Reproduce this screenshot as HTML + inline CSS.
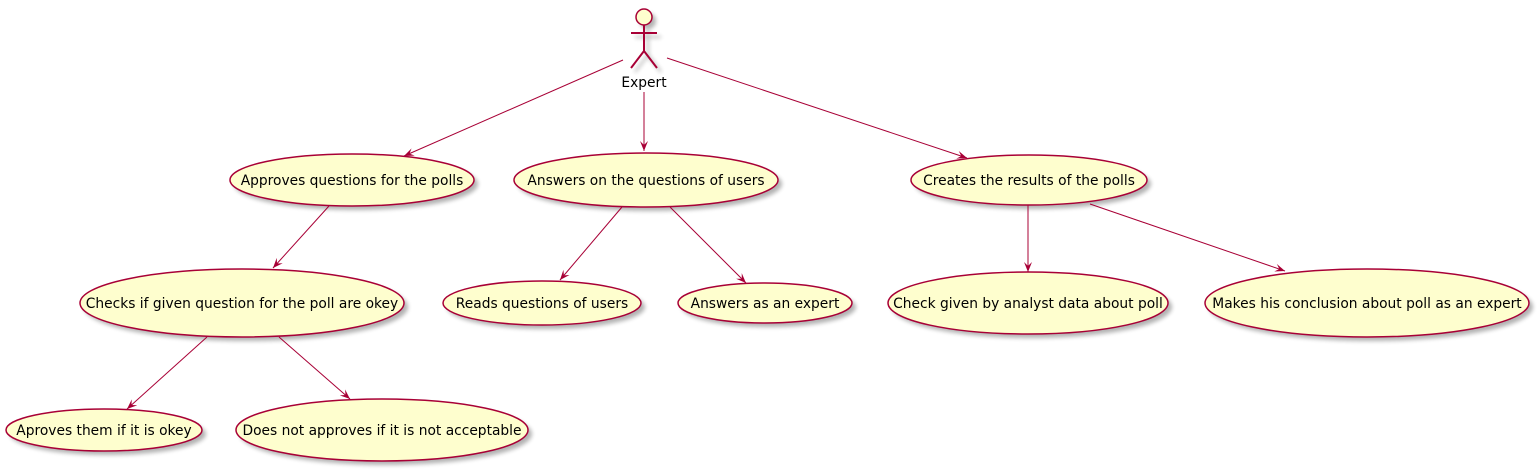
<!DOCTYPE html>
<html><head><style>body{margin:0;background:#fff}svg{display:block}</style></head><body>
<svg width="1540" height="471" xmlns="http://www.w3.org/2000/svg" font-family="DejaVu Sans, sans-serif" font-size="13.8">
<defs>
<marker id="a" markerWidth="12" markerHeight="10" refX="10" refY="4" orient="auto" markerUnits="userSpaceOnUse">
<path d="M0,0 L10,4 L0,8 L4,4 z" fill="#A80036"/></marker>
<filter id="s" x="-10%" y="-10%" width="130%" height="140%"><feGaussianBlur stdDeviation="2"/></filter>
</defs>
<g fill="#000" opacity="0.3" filter="url(#s)">
<ellipse cx="356" cy="184" rx="122" ry="26"/><ellipse cx="650" cy="184" rx="132" ry="27"/><ellipse cx="1033" cy="184" rx="118" ry="25"/>
<ellipse cx="246" cy="307" rx="162" ry="34"/><ellipse cx="546" cy="307" rx="99" ry="22"/><ellipse cx="769" cy="307" rx="87" ry="20"/>
<ellipse cx="1032" cy="307" rx="140" ry="31"/><ellipse cx="1371" cy="307" rx="162" ry="34"/>
<ellipse cx="108" cy="434" rx="98" ry="21"/><ellipse cx="386" cy="434" rx="146" ry="31"/>
<circle cx="648" cy="21" r="8"/><path d="M648 29V55M635 37H661M648 55L635 72M648 55L661 72" stroke="#000" stroke-width="2"/>
</g>
<g stroke="#A80036" stroke-width="1" fill="none" marker-end="url(#a)">
<line x1="623" y1="60" x2="404" y2="156"/>
<line x1="644" y1="92" x2="644" y2="151"/>
<line x1="667" y1="58" x2="967" y2="158"/>
<line x1="329" y1="206" x2="273" y2="268"/>
<line x1="622" y1="207" x2="560" y2="280"/>
<line x1="670" y1="207" x2="746" y2="283"/>
<line x1="1028" y1="205" x2="1028" y2="272"/>
<line x1="1090" y1="204" x2="1285" y2="271"/>
<line x1="207" y1="337" x2="127" y2="409"/>
<line x1="279" y1="337" x2="350" y2="399"/>
</g>
<g fill="#FEFECE" stroke="#A80036" stroke-width="1.5">
<ellipse cx="352" cy="180" rx="122" ry="26"/><ellipse cx="646" cy="180" rx="132" ry="27"/><ellipse cx="1029" cy="180" rx="118" ry="25"/>
<ellipse cx="242" cy="303" rx="162" ry="34"/><ellipse cx="542" cy="303" rx="99" ry="22"/><ellipse cx="765" cy="303" rx="87" ry="20"/>
<ellipse cx="1028" cy="303" rx="140" ry="31"/><ellipse cx="1367" cy="303" rx="162" ry="34"/>
<ellipse cx="104" cy="430" rx="98" ry="21"/><ellipse cx="382" cy="430" rx="146" ry="31"/>
<circle cx="644" cy="17" r="8"/>
</g>
<path d="M644 25V51M631 33H657M644 51L631 68M644 51L657 68" stroke="#A80036" stroke-width="2" fill="none"/>
<g text-anchor="middle" fill="#000">
<text x="644" y="87">Expert</text>
<text x="352" y="185">Approves questions for the polls</text>
<text x="646" y="185">Answers on the questions of users</text>
<text x="1029" y="185">Creates the results of the polls</text>
<text x="242" y="308">Checks if given question for the poll are okey</text>
<text x="542" y="308">Reads questions of users</text>
<text x="765" y="308">Answers as an expert</text>
<text x="1028" y="308">Check given by analyst data about poll</text>
<text x="1367" y="308">Makes his conclusion about poll as an expert</text>
<text x="104" y="435">Aproves them if it is okey</text>
<text x="382" y="435">Does not approves if it is not acceptable</text>
</g>
</svg>
</body></html>
